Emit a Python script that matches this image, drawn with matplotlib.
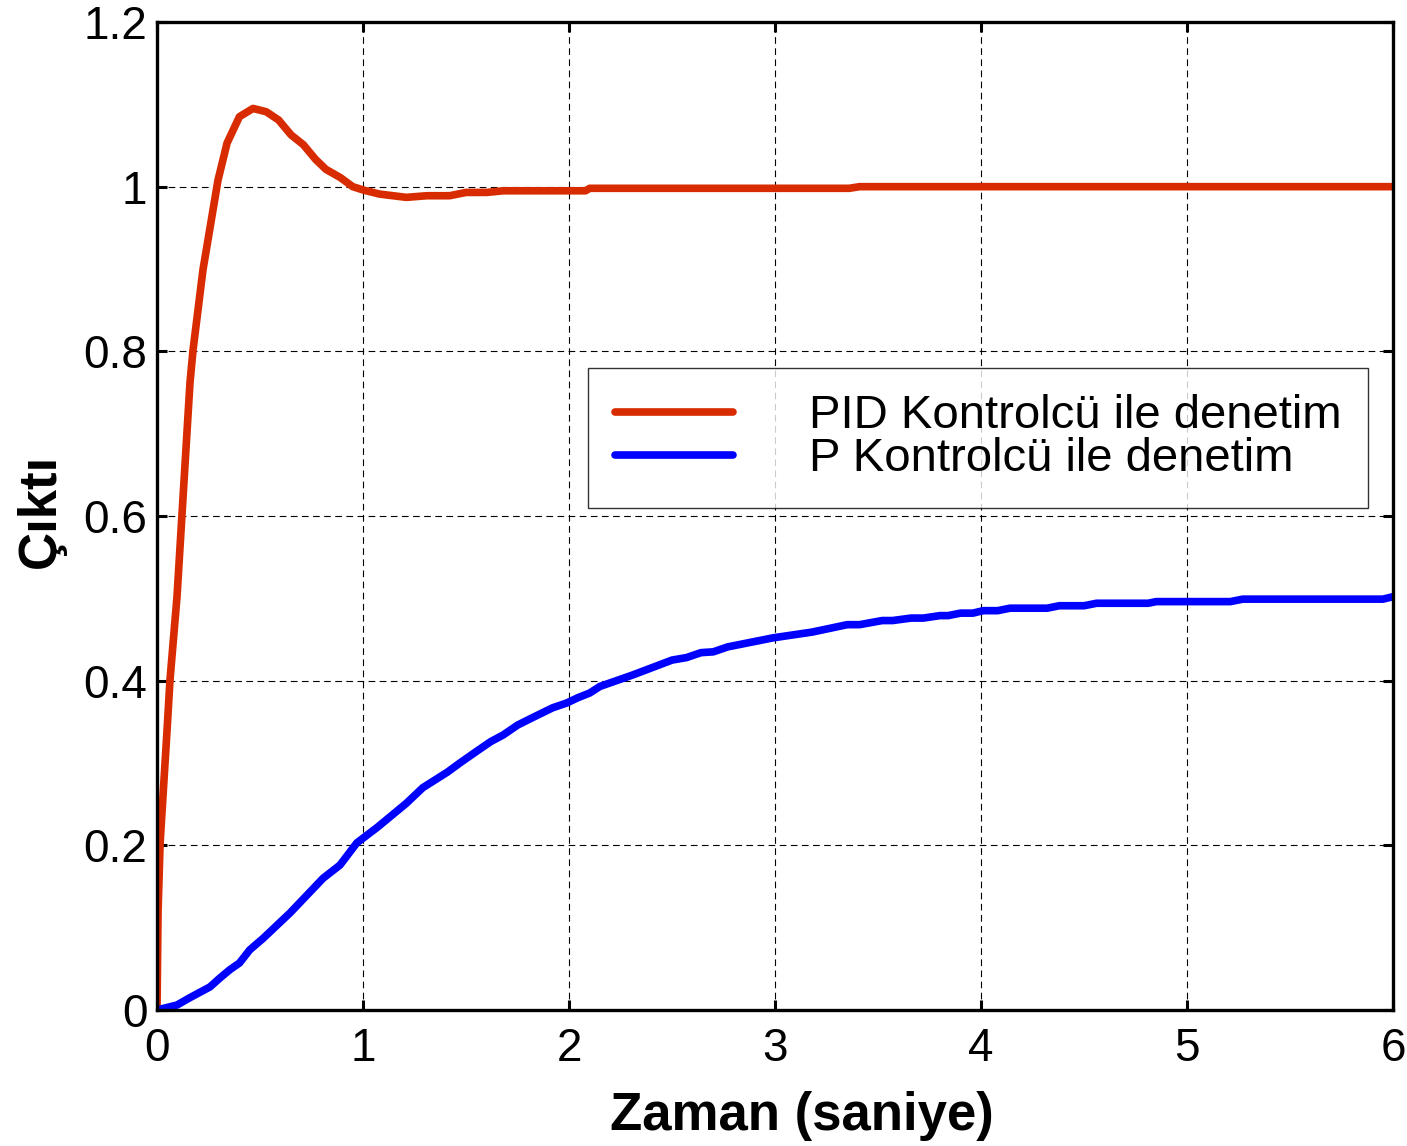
import numpy as np
import matplotlib
matplotlib.use("Agg")
import matplotlib.pyplot as plt

#Fonts
plt.rcParams['font.family'] = ['Liberation Sans', 'DejaVu Sans']

#Data
t_pid = [0.0, 0.005, 0.015, 0.048, 0.063, 0.097, 0.16, 0.175, 0.223, 0.296,
         0.34, 0.40, 0.466, 0.53, 0.59, 0.65, 0.71, 0.77, 0.82, 0.89, 0.95,
         1.0, 1.08, 1.21, 1.31, 1.42, 1.5, 1.6, 1.68, 1.86, 2.08, 2.1, 3.36,
         3.41, 6.0]
y_pid = [0.0, 0.12, 0.203, 0.337, 0.401, 0.502, 0.762, 0.802, 0.899, 1.008,
         1.053, 1.085, 1.095, 1.091, 1.081, 1.063, 1.051, 1.033, 1.021, 1.011,
         1.0, 0.996, 0.991, 0.987, 0.989, 0.989, 0.993, 0.993, 0.995, 0.995,
         0.995, 0.998, 0.998, 1.0, 1.0]

t_p = [0.0, 0.097, 0.16, 0.257, 0.306, 0.354, 0.40, 0.45, 0.515, 0.646, 0.806,
       0.888, 0.97, 1.07, 1.21, 1.29, 1.41, 1.47, 1.55, 1.62, 1.68, 1.75,
       1.83, 1.92, 1.99, 2.04, 2.10, 2.15, 2.31, 2.50, 2.57, 2.64, 2.70, 2.77,
       2.99, 3.18, 3.35, 3.41, 3.52, 3.57, 3.66, 3.72, 3.80, 3.84, 3.90, 3.96,
       4.01, 4.08, 4.14, 4.32, 4.38, 4.50, 4.56, 4.81, 4.85, 5.21, 5.27, 5.95,
       6.0]
y_p = [0.0, 0.006, 0.015, 0.028, 0.039, 0.049, 0.057, 0.073, 0.087, 0.118,
       0.160, 0.176, 0.203, 0.222, 0.251, 0.270, 0.289, 0.300, 0.314, 0.326,
       0.334, 0.346, 0.356, 0.367, 0.373, 0.379, 0.385, 0.393, 0.407, 0.425,
       0.428, 0.434, 0.435, 0.441, 0.452, 0.459, 0.468, 0.468, 0.473, 0.473,
       0.476, 0.476, 0.479, 0.479, 0.482, 0.482, 0.485, 0.485, 0.488, 0.488,
       0.491, 0.491, 0.494, 0.494, 0.496, 0.496, 0.499, 0.499, 0.502]

labels = ["PID Kontrolcü ile denetim", "P Kontrolcü ile denetim"]
xticks = [0, 1, 2, 3, 4, 5, 6]
yticks = [0, 0.2, 0.4, 0.6, 0.8, 1.0, 1.2]
yticklabels = ["0", "0.2", "0.4", "0.6", "0.8", "1", "1.2"]

fsize = 33 #tick font size
lsize = 38 #axis label font size
legsize = 34 #legend font size

#Figure
fig = plt.figure(figsize=(14.07, 11.46), dpi=100)
ax = fig.add_axes([0.1116, 0.1187, 0.8786, 0.8621])

ax.plot(t_pid, y_pid, color="#D92B00", linewidth=5.5, label=labels[0],
        solid_capstyle="round", solid_joinstyle="round")
ax.plot(t_p, y_p, color="#0000FF", linewidth=5.5, label=labels[1],
        solid_capstyle="round", solid_joinstyle="round")

ax.set_xlim(0, 6)
ax.set_ylim(0, 1.2)
ax.set_xticks(xticks)
ax.set_yticks(yticks)
ax.set_yticklabels(yticklabels)
ax.tick_params(direction="in", length=7, width=2.2, labelsize=fsize,
               top=True, right=True)
ax.tick_params(axis="x", pad=12)
ax.tick_params(axis="y", pad=7)
for s in ax.spines.values():
    s.set_linewidth(2.4)

ax.grid(True, color="black", linestyle=(0, (6, 4)), linewidth=0.8)

ax.set_xlabel("Zaman (saniye)", fontsize=lsize, fontweight="bold")
ax.set_ylabel("Çıktı", fontsize=lsize, fontweight="bold")
ax.xaxis.set_label_coords(0.522, -0.082)
ax.yaxis.set_label_coords(-0.074, 0.505)

leg = ax.legend(loc="upper left", bbox_to_anchor=(0.349, 0.650),
                fontsize=legsize, frameon=True, fancybox=False,
                handlelength=2.5, handletextpad=1.6, labelspacing=-0.02,
                borderpad=0.56, borderaxespad=0)
leg.get_frame().set_edgecolor("black")
leg.get_frame().set_linewidth(1.0)

fig.savefig("out.png", dpi=100)
